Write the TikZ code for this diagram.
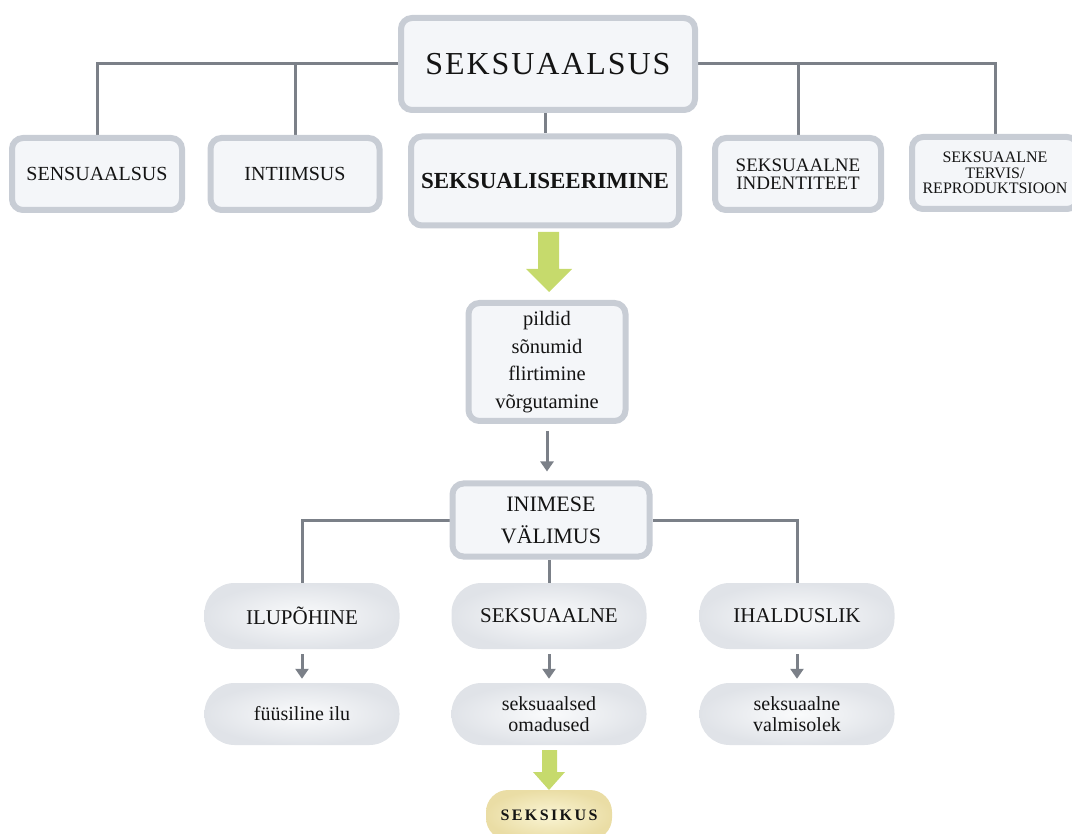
\documentclass[tikz,border=0pt]{standalone}
\usepackage{fontspec}
\setmainfont{Liberation Serif}
\usetikzlibrary{arrows.meta,backgrounds}

\definecolor{boxline}{RGB}{200,205,213}
\definecolor{boxfill}{RGB}{244,246,249}
\definecolor{wirec}{RGB}{123,128,136}
\definecolor{leaf}{RGB}{198,218,108}
\definecolor{pillin}{RGB}{250,251,252}
\definecolor{pillout}{RGB}{224,227,232}
\definecolor{goldin}{RGB}{250,245,212}
\definecolor{goldout}{RGB}{234,221,165}
\definecolor{ink}{RGB}{20,20,20}

\newcommand\fsz[2]{\fontsize{#1pt}{#2pt}\selectfont}

\tikzset{
  card/.style={draw=boxline, line width=6pt, fill=boxfill, rounded corners=11pt,
    inner sep=0pt, align=center, text=ink},
  pill/.style={inner color=pillin, outer color=pillout, rounded corners=30pt,
    inner sep=0pt, align=center, text=ink, minimum width=195pt},
  wire/.style={draw=wirec, line width=3pt},
  darrow/.style={wire, -{Triangle[width=13pt,length=10pt]}},
}

\begin{document}
\begin{tikzpicture}[x=1pt, y=-1pt]
\useasboundingbox (0,0) rectangle (1072,834);
\clip (0,0) rectangle (1072,834);

% top level
\node[card, minimum width=294pt, minimum height=92pt, font=\fsz{32}{38}]
  (top) at (548,64) {\addfontfeatures{LetterSpace=6}SEKSUAALSUS};

% second row
\node[card, minimum width=170pt, minimum height=72pt, font=\fsz{20}{24}]
  (sens) at (97,174) {SENSUAALSUS};
\node[card, minimum width=169pt, minimum height=72pt, font=\fsz{20}{24}]
  (intim) at (295,174) {INTIIMSUS};
\node[card, minimum width=268pt, minimum height=89pt, font=\fsz{23}{27}\bfseries]
  (sexual) at (545,181) {SEKSUALISEERIMINE};
\node[card, minimum width=166pt, minimum height=72pt, font=\fsz{19}{18.5}]
  (ident) at (798,174) {SEKSUAALNE\\INDENTITEET};
\node[card, minimum width=166pt, minimum height=72pt, font=\fsz{16}{15.5}]
  (terv) at (995,173) {SEKSUAALNE\\TERVIS/\\REPRODUKTSIOON};

% channels
\node[card, minimum width=157pt, minimum height=118pt, font=\fsz{20.5}{27.5}]
  (pild) at (547,362) {pildid\\sõnumid\\flirtimine\\võrgutamine};

% appearance
\node[card, minimum width=197pt, minimum height=73pt, font=\fsz{22}{32}]
  (inim) at (551,520) {INIMESE\\VÄLIMUS};

% appearance types
\node[pill, minimum height=66pt, font=\fsz{21}{25}] (ilu)    at (302,616) {ILUPÕHINE};
\node[pill, minimum height=66pt, font=\fsz{21}{25}] (seks)   at (549,616) {SEKSUAALNE};
\node[pill, minimum height=66pt, font=\fsz{21}{25}] (ihald)  at (797,616) {IHALDUSLIK};

% their outcomes
\node[pill, minimum height=62pt, font=\fsz{20}{21}] (fys)    at (302,714) {füüsiline ilu};
\node[pill, minimum height=62pt, font=\fsz{20}{21}] (omad)   at (549,714) {seksuaalsed\\omadused};
\node[pill, minimum height=62pt, font=\fsz{20}{21}] (valmis) at (797,714) {seksuaalne\\valmisolek};

% result
\node[inner color=goldin, outer color=goldout, rounded corners=22pt,
  minimum width=126pt, minimum height=50pt, inner sep=0pt, text=ink,
  font=\fsz{16}{19}\bfseries] (sexy) at (549,815)
  {\addfontfeatures{LetterSpace=15}SEKSIKUS};

% connectors
\begin{scope}[on background layer]
  \draw[wire] (top.west) -| (sens.north);
  \draw[wire] (top.west) -| (intim.north);
  \draw[wire] (top.east) -| (ident.north);
  \draw[wire] (top.east) -| (terv.north);
  \draw[wire] (sexual.north |- top.south) -- (sexual.north);
  \draw[wire] (inim.west) -| (ilu.north);
  \draw[wire] (inim.east) -| (ihald.north);
  \draw[wire] (seks.north |- inim.south) -- (seks.north);
\end{scope}

\draw[darrow] ([yshift=-7pt]pild.south) -- ([yshift=9pt]pild.south |- inim.north);
\draw[darrow] ([yshift=-5pt]ilu.south) -- ([yshift=4pt]fys.north);
\draw[darrow] ([yshift=-5pt]seks.south) -- ([yshift=4pt]omad.north);
\draw[darrow] ([yshift=-5pt]ihald.south) -- ([yshift=4pt]valmis.north);

% green block arrows
\fill[leaf] (538,232) -- (559,232) -- (559,269) -- (572,269) -- (549,292)
  -- (526,269) -- (538,269) -- cycle;
\fill[leaf] (542,750) -- (557,750) -- (557,772) -- (565,772) -- (549,790)
  -- (533,772) -- (542,772) -- cycle;
\end{tikzpicture}
\end{document}
